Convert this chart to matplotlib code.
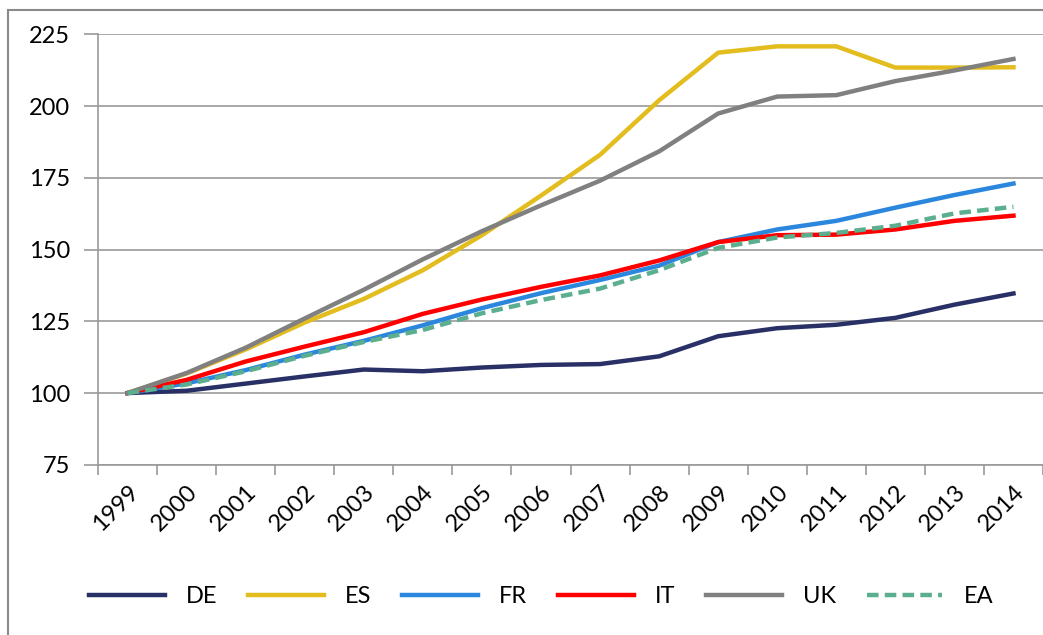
import matplotlib.pyplot as plt
from matplotlib.patches import Rectangle

plt.rcParams['font.family'] = ['Lato', 'DejaVu Sans']

# years on the x axis
years = ['1999', '2000', '2001', '2002', '2003', '2004', '2005', '2006',
         '2007', '2008', '2009', '2010', '2011', '2012', '2013', '2014']

# index values (1999 = 100)
de = [100, 100.8, 103.3, 105.8, 108.2, 107.6, 108.9, 109.8,
      110.1, 112.8, 119.8, 122.6, 123.8, 126.2, 130.8, 134.7]
es = [100, 106.8, 115.2, 124.6, 132.8, 142.8, 155.0, 168.8,
      183.0, 202.0, 218.6, 220.8, 220.8, 213.4, 213.4, 213.5]
fr = [100, 103.4, 108.0, 113.4, 118.2, 123.6, 129.6, 134.8,
      139.4, 144.4, 152.6, 157.0, 160.0, 164.6, 169.0, 173.0]
it = [100, 104.6, 111.0, 116.2, 121.2, 127.6, 132.6, 137.0,
      141.0, 146.2, 152.6, 155.0, 155.2, 157.0, 160.0, 161.8]
uk = [100, 107.0, 115.8, 126.0, 136.0, 146.6, 156.4, 165.4,
      174.0, 184.2, 197.4, 203.3, 203.8, 208.7, 212.4, 216.4]
ea = [100, 103.0, 107.6, 113.0, 117.8, 122.0, 127.8, 132.4,
      136.4, 142.8, 150.6, 154.2, 155.8, 158.3, 162.6, 164.9]

fig = plt.figure(figsize=(10.43, 6.35), dpi=100)
ax = fig.add_axes([0.094, 0.268, 0.906, 0.678])

x = range(len(years))
ax.plot(x, de, color='#283065', lw=3.2, label='DE')
ax.plot(x, es, color='#E3BC1E', lw=3.2, label='ES')
ax.plot(x, fr, color='#2B87DE', lw=3.2, label='FR')
ax.plot(x, it, color='#FF0000', lw=3.2, label='IT')
ax.plot(x, uk, color='#808080', lw=3.2, label='UK')
ax.plot(x, ea, color='#5BAE8E', lw=3.2, ls=(0, (2.6, 1.4)), label='EA')

ax.set_xlim(-0.5, len(years) - 0.5)
ax.set_ylim(75, 225)
ax.set_yticks(range(75, 226, 25))
ax.grid(axis='y', color='#9a9a9a', lw=1.2)
ax.set_axisbelow(True)

# category boundaries get the tick marks, labels sit at the centres
ax.set_xticks([i - 0.5 for i in range(len(years) + 1)], minor=False)
ax.set_xticklabels([])
ax.set_xticks(list(x), minor=True)
ax.set_xticklabels(years, minor=True, rotation=45, ha='right',
                   rotation_mode='anchor', fontsize=17)
ax.tick_params(axis='x', which='major', length=7, color='#9a9a9a', width=1.2)
ax.tick_params(axis='x', which='minor', length=0, pad=12)
ax.tick_params(axis='y', length=10, color='#9a9a9a', width=1.2,
               labelsize=17, pad=10)

for s in ['top', 'right']:
    ax.spines[s].set_visible(False)
for s in ['left', 'bottom']:
    ax.spines[s].set_color('#9a9a9a')
    ax.spines[s].set_linewidth(1.2)

fig.legend(loc='center', bbox_to_anchor=(0.519, 0.06), ncol=6,
           frameon=False, fontsize=17, handlelength=3.2,
           columnspacing=1.3, handletextpad=0.9)

# outer chart frame
fig.patches.append(Rectangle((8 / 1043, -0.05), 1.2, 0.05 + 1 - 10 / 635,
                             transform=fig.transFigure, fill=False,
                             edgecolor='#8a8a8a', lw=1.5))

fig.savefig('out.png', dpi=100)
